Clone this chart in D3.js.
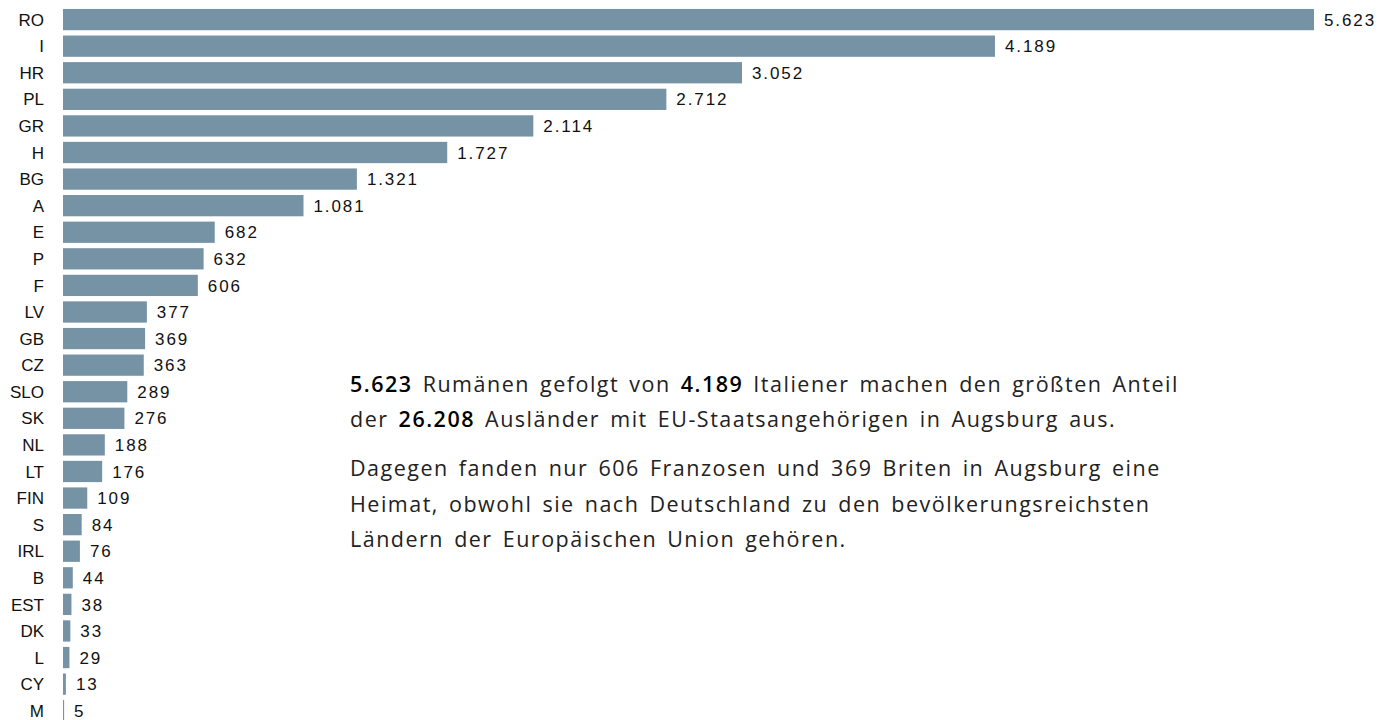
<!DOCTYPE html>
<html>
<head>
<meta charset="utf-8">
<script src="https://cdn.jsdelivr.net/npm/d3@7"></script>
<style>
  body { margin: 0; background: #fff; }
  svg { display: block; font-family: "Liberation Sans", Arial, sans-serif; }
</style>
</head>
<body>
<div id="chart"></div>
<script>
const countries = ["RO","I","HR","PL","GR","H","BG","A","E","P","F","LV","GB","CZ","SLO","SK","NL","LT","FIN","S","IRL","B","EST","DK","L","CY","M"];
const values = [5623,4189,3052,2712,2114,1727,1321,1081,682,632,606,377,369,363,289,276,188,176,109,84,76,44,38,33,29,13,5];

// Textblock: jede Zeile als Liste von [Text, fett?]
const para1 = [
  [["5.623", true], [" Rumänen gefolgt von ", false], ["4.189", true], [" Italiener machen den größten Anteil", false]],
  [["der ", false], ["26.208", true], [" Ausländer mit EU-Staatsangehörigen in Augsburg aus.", false]]
];
const para2 = [
  [["Dagegen fanden nur 606 Franzosen und 369 Briten in Augsburg eine", false]],
  [["Heimat, obwohl sie nach Deutschland zu den bevölkerungsreichsten", false]],
  [["Ländern der Europäischen Union gehören.", false]]
];

const width = 1392, height = 720;
const fmt = d3.formatLocale({decimal: ",", thousands: ".", grouping: [3]}).format(",d");

const data = countries.map((c, i) => ({name: c, value: values[i]}));

const svg = d3.select("#chart").append("svg")
    .attr("width", width)
    .attr("height", height);

const x = d3.scaleLinear()
    .domain([0, d3.max(values)])
    .range([63, 1314]);

const y = d3.scaleBand()
    .domain(countries)
    .range([6.3, 724])
    .paddingInner(0.2)
    .paddingOuter(0.1);

// Balken
svg.append("g")
    .attr("fill", "#7693a6")
    .selectAll("rect")
    .data(data)
    .join("rect")
    .attr("x", x(0))
    .attr("y", d => y(d.name))
    .attr("width", d => Math.max(1, x(d.value) - x(0)))
    .attr("height", y.bandwidth());

// Länderkürzel
svg.append("g")
    .attr("font-size", 17)
    .attr("fill", "#111")
    .attr("text-anchor", "end")
    .selectAll("text")
    .data(data)
    .join("text")
    .attr("x", 44)
    .attr("y", d => y(d.name) + y.bandwidth() / 2)
    .attr("dy", "0.36em")
    .text(d => d.name);

// Werte
svg.append("g")
    .attr("font-size", 17)
    .attr("fill", "#111")
    .attr("letter-spacing", "1.9px")
    .selectAll("text")
    .data(data)
    .join("text")
    .attr("x", d => x(d.value) + 10)
    .attr("y", d => y(d.name) + y.bandwidth() / 2)
    .attr("dy", "0.36em")
    .text(d => fmt(d.value));

// Text
function writeLines(lines, y0, lh) {
  lines.forEach((line, i) => {
    const t = svg.append("text")
        .attr("x", 350)
        .attr("y", y0 + i * lh)
        .attr("font-family", "'Open Sans', 'Liberation Sans', sans-serif")
        .attr("font-size", 21.5)
        .attr("letter-spacing", "1.5px")
        .attr("word-spacing", "3px")
        .attr("fill", "#222");
    line.forEach(([s, bold]) => {
      t.append("tspan")
        .attr("font-weight", bold ? 600 : 400)
        .attr("fill", bold ? "#000" : "#222")
        .text(s);
    });
  });
}
writeLines(para1, 392, 35);
writeLines(para2, 476, 35.5);
</script>
</body>
</html>
